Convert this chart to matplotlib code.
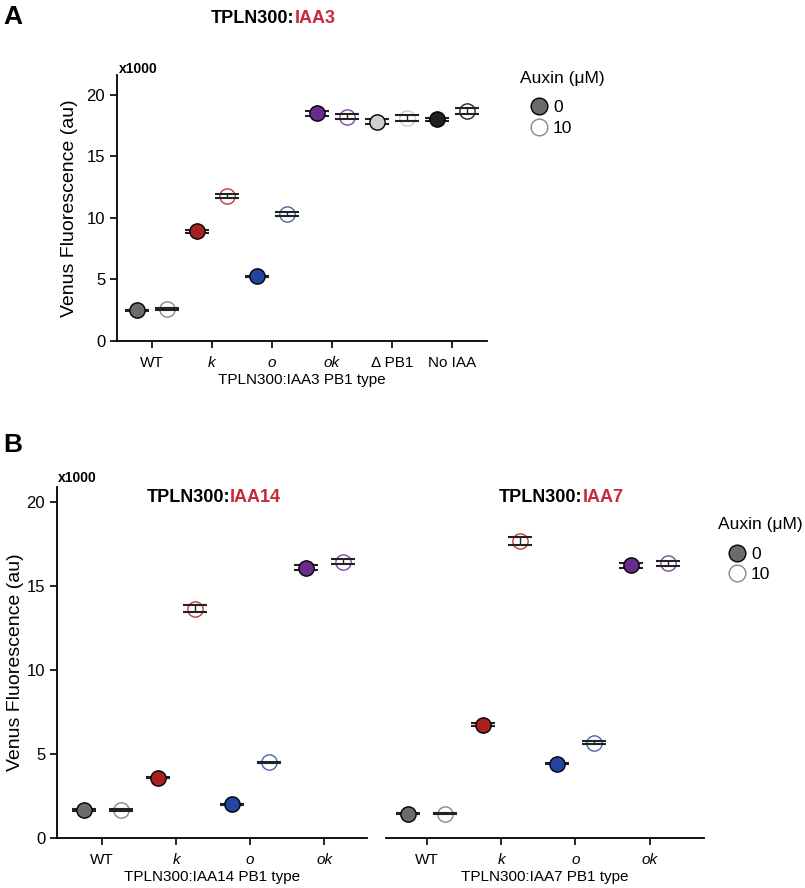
import matplotlib
matplotlib.use("Agg")
import matplotlib.pyplot as plt
from matplotlib.lines import Line2D

plt.rcParams["font.family"] = ["Liberation Sans", "DejaVu Sans"]

# ---- data (x1000 au) ----
cats_a = ["WT", "k", "o", "ok", "\u0394 PB1", "No IAA"]
a_0 = [2.5, 8.9, 5.25, 18.5, 17.8, 18.0]
a_10 = [2.6, 11.75, 10.3, 18.2, 18.1, 18.7]
a_0_sem = [0.05, 0.15, 0.05, 0.2, 0.2, 0.12]
a_10_sem = [0.05, 0.15, 0.15, 0.2, 0.22, 0.25]

cats_b = ["WT", "k", "o", "ok"]
iaa14_0 = [1.65, 3.6, 2.0, 16.1]
iaa14_10 = [1.65, 13.65, 4.5, 16.45]
iaa14_0_sem = [0.05, 0.05, 0.05, 0.15]
iaa14_10_sem = [0.05, 0.2, 0.05, 0.15]

iaa7_0 = [1.45, 6.75, 4.43, 16.25]
iaa7_10 = [1.45, 17.7, 5.68, 16.37]
iaa7_0_sem = [0.05, 0.1, 0.05, 0.15]
iaa7_10_sem = [0.05, 0.25, 0.08, 0.15]

# filled / open colours per category
fill_cols = ["#6b6b6b", "#a8201f", "#2344a0", "#6a2a8e", "#cfcfcf", "#202020"]
open_cols = ["#888888", "#c0393b", "#4a64b0", "#7d4a9e", "#cccccc", "#222222"]

RED = "#c8283c"


def draw(ax, cats, v0, v10, s0, s10, xlim, ylim):
    for i in range(len(cats)):
        ax.errorbar(i - 0.25, v0[i], yerr=s0[i], fmt="none", ecolor="#222222",
                    elinewidth=1, capsize=8.5, capthick=1.5, zorder=2)
        ax.plot(i - 0.25, v0[i], "o", ms=11, mfc=fill_cols[i], mec="black",
                mew=1, zorder=3)
        ax.plot(i + 0.25, v10[i], "o", ms=11, mfc="none", mec=open_cols[i],
                mew=1, zorder=1)
        ax.errorbar(i + 0.25, v10[i], yerr=s10[i], fmt="none", ecolor="#222222",
                    elinewidth=1, capsize=8.5, capthick=1.5, zorder=2)
    ax.set_xlim(*xlim)
    ax.set_ylim(*ylim)
    ax.set_xticks(range(len(cats)))
    labs = ax.set_xticklabels(cats, fontsize=11)
    for t in labs:
        if t.get_text() in ("k", "o", "ok"):
            t.set_style("italic")
    ax.spines["top"].set_visible(False)
    ax.spines["right"].set_visible(False)
    ax.tick_params(axis="x", length=5, width=1.2, pad=6)
    ax.tick_params(axis="y", length=5, width=1.2, labelsize=12)
    for s in ax.spines.values():
        s.set_linewidth(1.3)


def two_col_title(fig, x, y, black, red):
    fig.text(x, y, black, ha="right", va="center", fontsize=13, fontweight="bold")
    fig.text(x, y, red, ha="left", va="center", fontsize=13, fontweight="bold",
             color=RED)


def legend(fig, x, y):
    fig.text(x, y, "Auxin (\u03bcM)", fontsize=12.5, va="center")
    h = [Line2D([], [], ls="", marker="o", ms=12, mfc="#6b6b6b", mec="black"),
         Line2D([], [], ls="", marker="o", ms=12, mfc="white", mec="#888888")]
    fig.legend(h, ["0", "10"], loc="upper left", bbox_to_anchor=(x, y - 0.017),
               frameon=False, fontsize=12.5, handletextpad=0.1,
               labelspacing=0.3, borderaxespad=0, handlelength=1.4)


fig = plt.figure(figsize=(8.05, 8.88), dpi=100)

# ---- panel A ----
axA = fig.add_axes([0.1453, 0.616, 0.4597, 0.2995])
draw(axA, cats_a, a_0, a_10, a_0_sem, a_10_sem, (-0.58, 5.58), (0, 21.6))
axA.set_yticks([0, 5, 10, 15, 20])
axA.set_ylabel("Venus Fluorescence (au)", fontsize=14, labelpad=6)
axA.set_xlabel("TPLN300:IAA3 PB1 type", fontsize=11, labelpad=2)
fig.text(0.148, 0.922, "x1000", fontsize=10, fontweight="bold", va="center")
fig.text(0.004, 0.981, "A", fontsize=19, fontweight="bold", va="center")
two_col_title(fig, 0.366, 0.979, "TPLN300:", "IAA3")
legend(fig, 0.646, 0.912)

# ---- panel B ----
axB1 = fig.add_axes([0.0708, 0.0563, 0.3851, 0.3953])
draw(axB1, cats_b, iaa14_0, iaa14_10, iaa14_0_sem, iaa14_10_sem, (-0.61, 3.58), (0, 20.9))
axB1.set_yticks([0, 5, 10, 15, 20])
axB1.set_ylabel("Venus Fluorescence (au)", fontsize=14, labelpad=2)
axB1.set_xlabel("TPLN300:IAA14 PB1 type", fontsize=11, labelpad=2)

axB2 = fig.add_axes([0.4795, 0.0563, 0.395, 0.3953])
draw(axB2, cats_b, iaa7_0, iaa7_10, iaa7_0_sem, iaa7_10_sem, (-0.55, 3.73), (0, 20.9))
axB2.spines["left"].set_visible(False)
axB2.set_yticks([])
axB2.set_xlabel("TPLN300:IAA7 PB1 type", fontsize=11, labelpad=2)

fig.text(0.072, 0.4615, "x1000", fontsize=10, fontweight="bold", va="center")
fig.text(0.004, 0.499, "B", fontsize=19, fontweight="bold", va="center")
two_col_title(fig, 0.2857, 0.4395, "TPLN300:", "IAA14")
two_col_title(fig, 0.724, 0.4395, "TPLN300:", "IAA7")
legend(fig, 0.892, 0.409)

fig.savefig("out.png", dpi=100)
